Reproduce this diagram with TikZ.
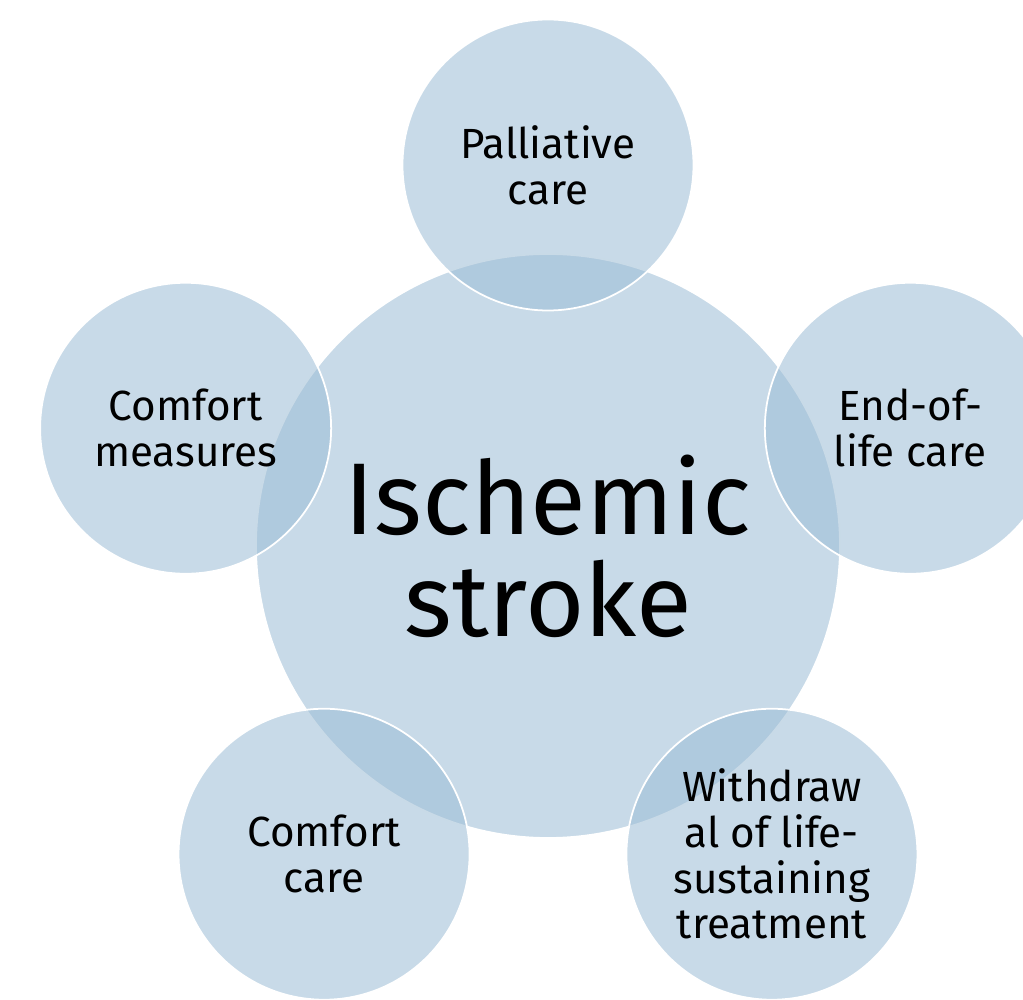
\documentclass[tikz,border=0pt]{standalone}
\usepackage{fontspec}
\setmainfont{Fira Sans}
\usepackage{tikz}
\usetikzlibrary{positioning}
\definecolor{bubble}{HTML}{9BBCD5}
\tikzset{
  hub/.style={circle, draw=white, line width=1pt, fill=bubble, fill opacity=0.55, text opacity=1, draw opacity=1,
    minimum size=11.68cm, inner sep=0pt, align=center, font=\fontsize{58}{58}\selectfont},
  spoke/.style={circle, draw=white, line width=1pt, fill=bubble, fill opacity=0.55, text opacity=1, draw opacity=1,
    minimum size=5.82cm, inner sep=0pt, align=center, font=\fontsize{24}{26}\selectfont}
}

\begin{document}
\begin{tikzpicture}[x=1cm,y=1cm]
  \useasboundingbox (-10.96,10.92) rectangle (9.5,-9.08);
  \clip (-10.96,10.92) rectangle (9.5,-9.08);

  \node[hub] (stroke) at (0,0) {Ischemic\\stroke};

  % outer ring, one bubble every 72 degrees
  \node[spoke] (palliative) at (90:7.62) {Palliative\\care};
  \node[spoke] (endoflife) at (18:7.62) {End-of-\\life care};
  \node[spoke] (withdrawal) at (-54:7.62) {Withdraw\\al of life-\\sustaining\\treatment};
  \node[spoke] (comfortcare) at (234:7.62) {Comfort\\care};
  \node[spoke] (comfortmeasures) at (162:7.62) {Comfort\\measures};
\end{tikzpicture}
\end{document}
